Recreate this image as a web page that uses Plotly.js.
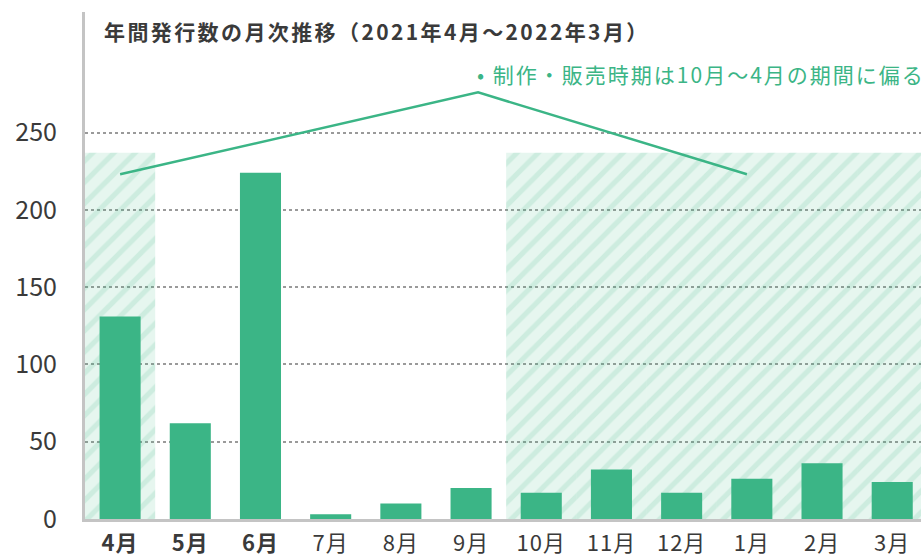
<!DOCTYPE html>
<html>
<head>
<meta charset="utf-8">
<script src="https://cdn.plot.ly/plotly-3.0.1.min.js"></script>
<style>
  html, body { margin: 0; padding: 0; background: #fff; }
  #chart { width: 921px; height: 559px; }
  #chart .gtitle { letter-spacing: 2.4px; }
  #chart .annotation-text { letter-spacing: 2px; }
  #chart .xtick text { letter-spacing: 1px; }
</style>
</head>
<body>
<div id="chart"></div>
<script>
var months = ['4月', '5月', '6月', '7月', '8月', '9月', '10月', '11月', '12月', '1月', '2月', '3月'];
var tickLabels = ['<b>4月</b>', '<b>5月</b>', '<b>6月</b>', '7月', '8月', '9月', '10月', '11月', '12月', '1月', '2月', '3月'];
var issues = [131, 62, 224, 3, 10, 20, 17, 32, 17, 26, 36, 24];
// shaded season (production / sales period)
var season = [237, null, null, null, null, null, 237, 237, 237, 237, 237, 237];
// bracket line pointing at the season
var bracketX = [0, 5.1, 8.93];
var bracketY = [223, 276, 223];

var idx = months.map(function (m, i) { return i; });
var green = '#3bb586';
var textColor = '#3a3a3a';
var font = '"Noto Sans CJK JP", "Noto Sans", sans-serif';

var hatch = {
    x: idx,
    y: season,
    type: 'bar',
    width: 1,
    hoverinfo: 'skip',
    marker: {
        color: 'rgba(59,181,134,0.14)',
        line: { width: 0 },
        pattern: {
            shape: '/',
            fillmode: 'replace',
            bgcolor: 'rgba(59,181,134,0.13)',
            fgcolor: 'rgba(59,181,134,0.15)',
            size: 15,
            solidity: 0.35
        }
    }
};

var bars = {
    x: idx,
    y: issues,
    type: 'bar',
    width: 0.585,
    marker: { color: green, line: { width: 0 } }
};

var bracket = {
    x: bracketX,
    y: bracketY,
    mode: 'lines',
    type: 'scatter',
    line: { color: green, width: 2.5 },
    hoverinfo: 'skip'
};

var layout = {
    width: 921,
    height: 559,
    margin: { l: 85, r: 0, t: 12, b: 40 },
    paper_bgcolor: '#fff',
    plot_bgcolor: '#fff',
    showlegend: false,
    barmode: 'overlay',
    font: { family: font, color: textColor },
    title: {
        text: '<b>年間発行数の月次推移（2021年4月～2022年3月）</b>',
        font: { family: font, size: 21, color: textColor },
        x: 104 / 921,
        xanchor: 'left',
        y: 1 - 33 / 559,
        yanchor: 'middle'
    },
    xaxis: {
        type: 'linear',
        range: [-0.5, 11.41],
        tickvals: idx,
        ticktext: tickLabels,
        tickfont: { size: 22, color: textColor },
        showgrid: false,
        zeroline: false,
        showline: true,
        linecolor: '#c4c4c4',
        linewidth: 3,
        ticks: '',
        ticklabelstandoff: 3
    },
    yaxis: {
        range: [0, 328],
        tickvals: [0, 50, 100, 150, 200, 250],
        tickfont: { size: 25, color: textColor },
        showgrid: true,
        gridcolor: '#9a9a9a',
        gridwidth: 2,
        griddash: 'dot',
        zeroline: false,
        showline: true,
        linecolor: '#c4c4c4',
        linewidth: 3,
        ticks: '',
        ticklabelstandoff: 20
    },
    annotations: [{
        text: '• 制作・販売時期は10月～4月の期間に偏る',
        xref: 'paper',
        yref: 'paper',
        x: (497 - 85) / 836,
        y: (519 - 74) / 507,
        xanchor: 'left',
        yanchor: 'middle',
        showarrow: false,
        font: { family: font, size: 21, color: green }
    }]
};

Plotly.newPlot('chart', [hatch, bars, bracket], layout, { displayModeBar: false, staticPlot: true });
</script>
</body>
</html>
